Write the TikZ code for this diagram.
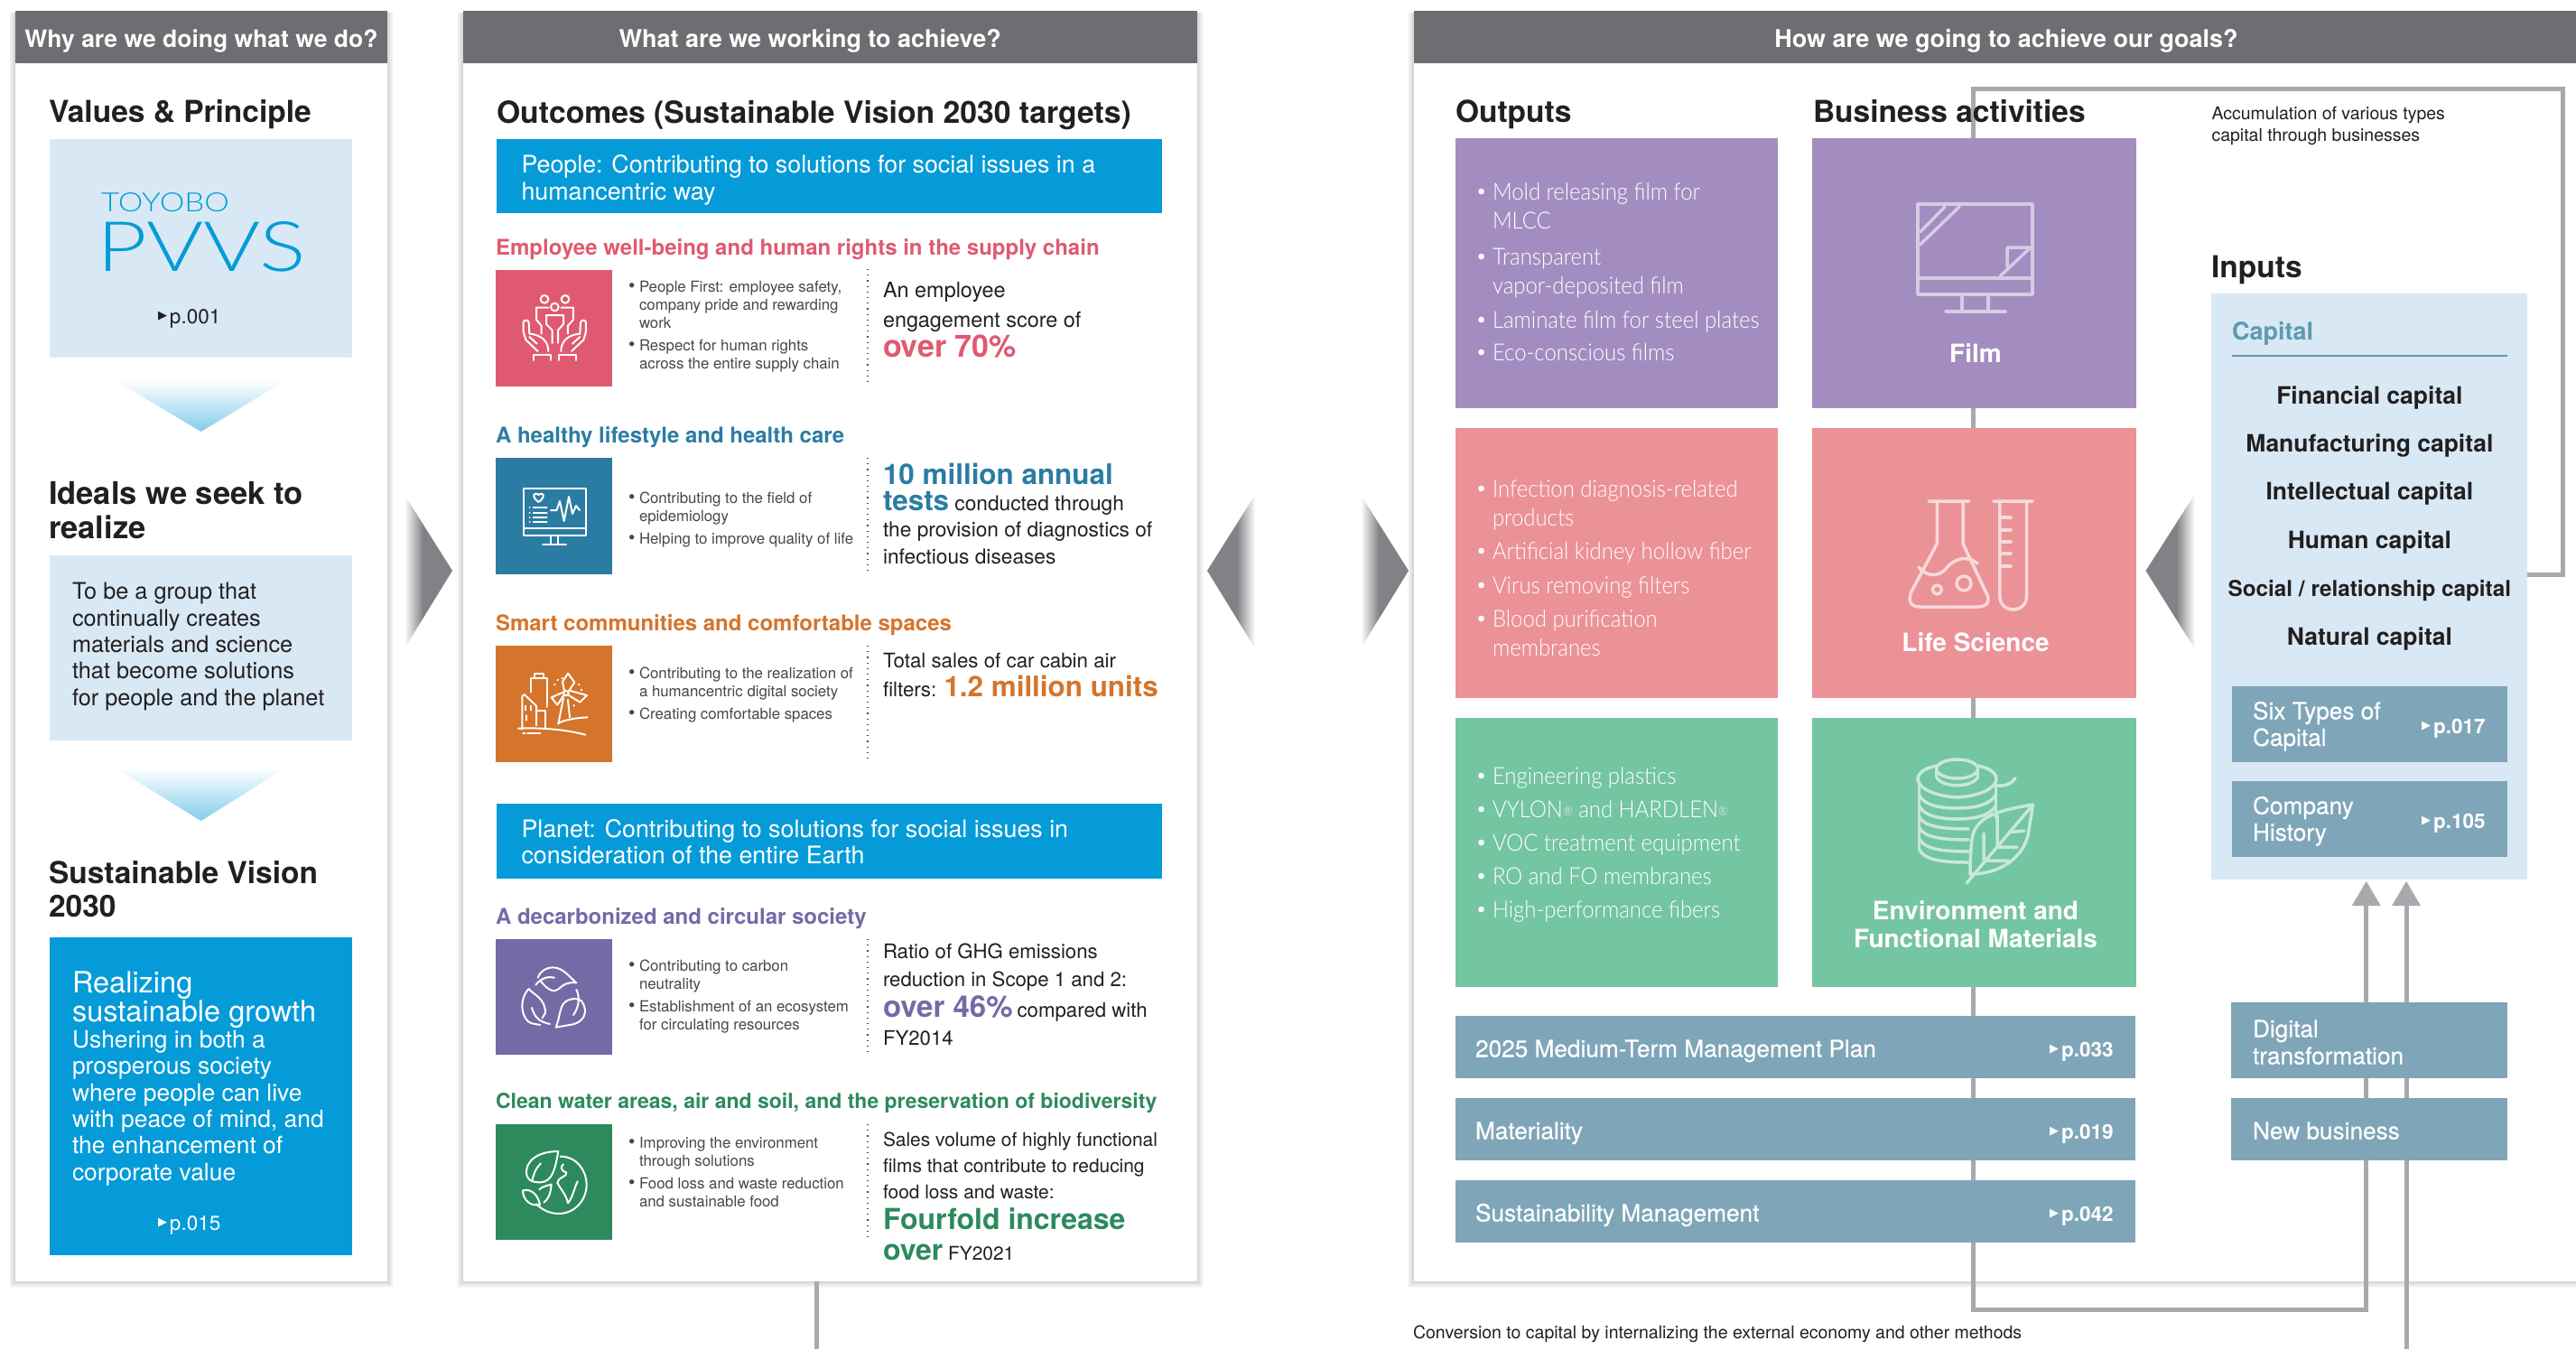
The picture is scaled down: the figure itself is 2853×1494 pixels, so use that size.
\documentclass[tikz,border=0pt]{standalone}
\usepackage{fontspec}
\usepackage{graphicx}
\setmainfont{TeX Gyre Heros}
\newfontfamily\thinf{Lato Light}
\newfontfamily\outf[FakeStretch=0.92]{Lato Light}
\newfontfamily\medf[FakeBold=0.35]{TeX Gyre Heros}
\newfontfamily\hvf{TeX Gyre Heros}
\newfontfamily\djf{DejaVu Sans}
\usetikzlibrary{arrows.meta,calc}
\lineskiplimit=-100pt
\definecolor{hdrc}{HTML}{6D6E71}
\definecolor{lblue}{HTML}{D8E9F5}
\definecolor{cblue}{HTML}{059BD8}
\definecolor{barc}{HTML}{7FA5B8}
\definecolor{cpur}{HTML}{A38DC0}
\definecolor{cpink}{HTML}{EB9297}
\definecolor{cgrn}{HTML}{74C5A1}
\definecolor{cred}{HTML}{DF5A70}
\definecolor{cteal}{HTML}{2B7CA3}
\definecolor{cora}{HTML}{D5742B}
\definecolor{cvio}{HTML}{736AA6}
\definecolor{cdg}{HTML}{2C8A5D}
\definecolor{ink}{HTML}{231F20}
\definecolor{soft}{HTML}{4A4647}
\definecolor{linec}{HTML}{A7A9AC}
\definecolor{bigar}{HTML}{808285}
\definecolor{capc}{HTML}{5F9AB0}
\pgfdeclarehorizontalshading{fadeR}{100bp}{color(0bp)=(white); color(25bp)=(white); color(44bp)=(bigar); color(100bp)=(bigar)}
\pgfdeclarehorizontalshading{fadeL}{100bp}{color(0bp)=(bigar); color(56bp)=(bigar); color(75bp)=(white); color(100bp)=(white)}
\pgfdeclarelayer{panels}\pgfdeclarelayer{conns}
\pgfsetlayers{panels,conns,main}
\newcommand{\fsz}[2]{\fontsize{#1}{#2}\selectfont}
\newcommand{\mkbox}[7]{\node[anchor=north west,inner sep=0pt,outer sep=0pt,minimum width={(#4-#2)*1pt},minimum height={(#5-#3)*1pt},#6] (#1) at (#2,#3) {#7};}
\newcommand{\mktxt}[5]{\node[txt,#4] (#1) at (#2,#3) {#5};}
\newcommand{\sbul}{\makebox[12pt][l]{\smash{\raisebox{-.8pt}{\fsz{21}{20}\textbullet}}}}
\newcommand{\lbul}{\makebox[17pt][l]{\hvf\textbullet}}
\newcommand{\hdrtxt}[1]{\smash{\raisebox{-12pt}{#1}}}
\newcommand{\pref}[1]{{\djf\fsz{13}{13}\raisebox{5pt}{▶}}\hspace{3pt}p.#1}
\newcommand{\panelshadow}[4]{\foreach \i in {1,...,7}{\fill[black,opacity=.025] (#1-\i,#2+2) rectangle (#3+\i,#4+\i);}}
\tikzset{
 txt/.style={anchor=base west,inner sep=0pt,outer sep=0pt,align=left},
 hdr/.style={fill=hdrc,text=white,font=\bfseries\fsz{27}{30}},
 ttl/.style={text=ink,font=\bfseries\fsz{33.5}{37.5}},
 body/.style={text=ink,font=\fsz{25.3}{29.3}},
 lbox/.style={fill=lblue},
 bluebox/.style={fill=cblue},
 sec/.style={font=\bfseries\fsz{24}{29}},
 bl/.style={text=soft,font=\fsz{16.8}{20}},
 outb/.style={text=white,font=\outf\fsz{26}{32}},
 ba/.style={text=white,font=\bfseries\fsz{28}{31}},
 icon/.style={draw=white,line width=2pt,line cap=round,line join=round,fill=none},
 bicon/.style={line width=3.5pt,line cap=round,line join=round,fill=none},
 conn/.style={draw=linec,line width=5pt},
 dotv/.style={draw=soft,line width=1.2pt,dash pattern=on 1.2pt off 5pt},
 barl/.style={text=white,font=\medf\fsz{26.2}{30}},
 prf/.style={text=white,font=\bfseries\fsz{22.5}{25}}
}
\begin{document}
\begin{tikzpicture}[x=1pt,y=-1pt]
\useasboundingbox (0,0) rectangle (2853,1494);
% ---------- panels
\begin{pgfonlayer}{panels}
\fill[white] (0,0) rectangle (2853,1494);
\panelshadow{17}{12}{429}{1419}
\panelshadow{513}{12}{1325.5}{1419}
\panelshadow{1566}{12}{2900}{1419}
\mkbox{p1}{17}{12}{429}{1419}{fill=white}{}
\mkbox{p2}{513}{12}{1325.5}{1419}{fill=white}{}
\mkbox{p3}{1566}{12}{2853}{1419}{fill=white}{}
\end{pgfonlayer}
\mkbox{h1}{17}{12}{429}{69.5}{hdr,font=\bfseries\fsz{26.5}{30}}{\hdrtxt{Why are we doing what we do?}}
\mkbox{h2}{513}{12}{1325.5}{69.5}{hdr}{\hspace{-44pt}\hdrtxt{What are we working to achieve?}}
\mkbox{h3}{1566}{12}{2853}{69.5}{hdr}{\hspace{25pt}\hdrtxt{How are we going to achieve our goals?}}
% ---------- big arrows
\shade[shading=fadeR] (448,548) -- (501,632) -- (448,718) -- cycle;
\shade[shading=fadeL] (1390,548) -- (1337,632) -- (1390,718) -- cycle;
\shade[shading=fadeR] (1507,548) -- (1560,632) -- (1507,718) -- cycle;
\shade[shading=fadeL] (2431,547) -- (2376.5,632) -- (2431,719) -- cycle;
% ---------- panel 1
\mktxt{v1}{54}{135}{ttl}{Values \& Principle}
\mkbox{b1}{55}{154}{390}{396}{lbox}{}
\node[txt,text=cblue] (logo1) at (112,234) {\resizebox{142pt}{21pt}{\thinf TOYOBO}};
\node[txt,text=cblue] (logo2) at (107,300) {\resizebox{232pt}{55pt}{\thinf PVVS}};
\mktxt{pr1}{175}{358}{text=ink,font=\fsz{22.5}{25}}{\pref{001}}
\shade[top color=white,bottom color=cblue!50] (127,421) -- (317,421) -- (222.7,478) -- cycle;
\mktxt{v2}{54}{596}{ttl,font=\bfseries\fsz{34.5}{37.5}}{Ideals we seek to\\realize}
\mkbox{b2}{55}{615}{390}{820}{lbox}{}
\mktxt{v2t}{80}{781}{body}{To be a group that\\continually creates\\materials and science\\that become solutions\\for people and the planet}
\shade[top color=white,bottom color=cblue!50] (127,850) -- (317,850) -- (222.7,909) -- cycle;
\mktxt{v3}{54}{1015}{ttl,font=\bfseries\fsz{33.5}{36.5}}{Sustainable Vision\\2030}
\mkbox{b3}{55}{1038}{390}{1390}{bluebox}{}
\mktxt{v3t}{80}{1307}{text=white,font=\fsz{26.4}{29.3}}{{\fsz{32.5}{31}Realizing}\\[2pt]{\fsz{32.5}{31}sustainable growth}\\Ushering in both a\\prosperous society\\where people can live\\with peace of mind, and\\the enhancement of\\corporate value}
\mktxt{pr3}{175}{1362}{text=white,font=\fsz{22.5}{25}}{\pref{015}}
% ---------- panel 2
\mktxt{o0}{550}{136}{ttl,font=\bfseries\fsz{33.7}{37}}{Outcomes (Sustainable Vision 2030 targets)}
\mkbox{pb}{550}{154}{1287}{236}{bluebox}{}
\mktxt{pbt}{577.5}{221}{text=white,font=\fsz{26.8}{30}}{People: Contributing to solutions for social issues in a\\humancentric way}
% --- section 1
\mktxt{s1}{549}{282}{sec,text=cred}{Employee well-being and human rights in the supply chain}
\mkbox{i1}{549}{299}{678}{428}{fill=cred}{}
\mktxt{s1b}{696}{408}{bl}{\sbul People First: employee safety,\\\hspace*{12pt}company pride and rewarding\\\hspace*{12pt}work\\[5pt]\sbul Respect for human rights\\\hspace*{12pt}across the entire supply chain}
\mktxt{s1r}{978}{395}{text=ink,font=\fsz{23.4}{33}}{An employee\\engagement score of\\{\bfseries\color{cred}\fsz{34}{34}over 70\%}}
\coordinate (d1) at (961,298);\coordinate (d1b) at (961,428);
\draw[dotv] (d1) -- (d1b);
% --- section 2
\mktxt{s2}{549}{490}{sec,text=cteal}{A healthy lifestyle and health care}
\mkbox{i2}{549}{507}{678}{636}{fill=cteal}{}
\mktxt{s2b}{696}{602}{bl}{\sbul Contributing to the field of\\\hspace*{12pt}epidemiology\\[5pt]\sbul Helping to improve quality of life}
\mktxt{s2r}{978}{624}{text=ink,font=\fsz{22.7}{29.3}}{{\bfseries\color{cteal}\fsz{31.4}{33}10 million annual}\\{\bfseries\color{cteal}\fsz{31.4}{33}tests} conducted through\\the provision of diagnostics of\\infectious diseases}
\coordinate (d2) at (961,507);\coordinate (d2b) at (961,637);
\draw[dotv] (d2) -- (d2b);
% --- section 3
\mktxt{s3}{549}{698.5}{sec,text=cora}{Smart communities and comfortable spaces}
\mkbox{i3}{549}{715}{678}{843.5}{fill=cora}{}
\mktxt{s3b}{696}{796}{bl}{\sbul Contributing to the realization of\\\hspace*{12pt}a humancentric digital society\\[5pt]\sbul Creating comfortable spaces}
\mktxt{s3r}{978}{771}{text=ink,font=\fsz{22.3}{32}}{Total sales of car cabin air\\filters: {\bfseries\color{cora}\fsz{31.4}{33}1.2 million units}}
\coordinate (d3) at (961,715);\coordinate (d3b) at (961,845);
\draw[dotv] (d3) -- (d3b);
% --- planet
\mkbox{pl}{550}{890}{1287}{972.5}{bluebox}{}
\mktxt{plt}{577.5}{956}{text=white,font=\fsz{26.8}{29}}{Planet: Contributing to solutions for social issues in\\consideration of the entire Earth}
% --- section 4
\mktxt{s4}{549}{1023}{sec,text=cvio}{A decarbonized and circular society}
\mkbox{i4}{549}{1040}{678}{1168}{fill=cvio}{}
\mktxt{s4b}{696}{1140}{bl}{\sbul Contributing to carbon\\\hspace*{12pt}neutrality\\[5pt]\sbul Establishment of an ecosystem\\\hspace*{12pt}for circulating resources}
\mktxt{s4r}{978}{1157}{text=ink,font=\fsz{22.2}{31}}{Ratio of GHG emissions\\reduction in Scope 1 and 2:\\[3pt]{\bfseries\color{cvio}\fsz{33}{33}over 46\%}\hspace{5pt}compared with\\FY2014}
\coordinate (d4) at (961,1040);\coordinate (d4b) at (961,1170);
\draw[dotv] (d4) -- (d4b);
% --- section 5
\mktxt{s5}{549}{1227}{sec,text=cdg,font=\bfseries\fsz{23}{29}}{Clean water areas, air and soil, and the preservation of biodiversity}
\mkbox{i5}{549}{1245}{678}{1373}{fill=cdg}{}
\mktxt{s5b}{696}{1336}{bl}{\sbul Improving the environment\\\hspace*{12pt}through solutions\\[5pt]\sbul Food loss and waste reduction\\\hspace*{12pt}and sustainable food}
\mktxt{s5r}{978}{1395}{text=ink,font=\fsz{20.9}{29}}{Sales volume of highly functional\\films that contribute to reducing\\food loss and waste:\\[5pt]{\bfseries\color{cdg}\fsz{32}{32}Fourfold increase}\\[5pt]{\bfseries\color{cdg}\fsz{32}{32}over} FY2021}
\coordinate (d5) at (961,1245);\coordinate (d5b) at (961,1374);
\draw[dotv] (d5) -- (d5b);
% ---------- panel 3
\mktxt{ou}{1612}{135}{ttl}{Outputs}
\mktxt{bu}{2008}{135}{ttl}{Business activities}
\mkbox{o1}{1611.5}{153}{1969}{452}{fill=cpur}{}
\mkbox{o2}{1611.5}{474}{1969}{773}{fill=cpink}{}
\mkbox{o3}{1611.5}{795}{1969}{1093}{fill=cgrn}{}
\mkbox{film}{2007}{153}{2365.5}{452}{fill=cpur}{}
\mkbox{life}{2007}{474}{2365.5}{773}{fill=cpink}{}
\mkbox{env}{2007}{795}{2365.5}{1093}{fill=cgrn}{}
\mktxt{o1t}{1636}{399}{outb}{\lbul Mold releasing film for\\\hspace*{17pt}MLCC\\[7.5pt]\lbul Transparent\\\hspace*{17pt}vapor-deposited film\\[6pt]\lbul Laminate film for steel plates\\[4pt]\lbul Eco-conscious films}
\mktxt{o2t}{1636}{726}{outb}{\lbul Infection diagnosis-related\\\hspace*{17pt}products\\[5pt]\lbul Artificial kidney hollow fiber\\[6pt]\lbul Virus removing filters\\[5pt]\lbul Blood purification\\\hspace*{17pt}membranes}
\mktxt{o3t}{1636}{1016}{outb,font=\outf\fsz{26}{37}}{\lbul Engineering plastics\\\lbul VYLON{\fsz{14}{14}\raisebox{2pt}{®}} and HARDLEN{\fsz{14}{14}\raisebox{2pt}{®}}\\\lbul VOC treatment equipment\\\lbul RO and FO membranes\\\lbul High-performance fibers}
\node[ba,anchor=base,inner sep=0pt] (filmt) at (2188,401) {Film};
\node[ba,anchor=base,inner sep=0pt] (lifet) at (2188,721.5) {Life Science};
\node[ba,anchor=base,inner sep=0pt,align=center] (envt) at (2188,1049.5) {Environment and\\Functional Materials};
% bars
\mkbox{b25}{1612}{1125}{2365}{1194}{fill=barc}{}
\mkbox{bmat}{1612}{1216}{2365}{1285}{fill=barc}{}
\mkbox{bsus}{1612}{1307}{2365}{1376}{fill=barc}{}
\mktxt{b25t}{1634}{1170.5}{barl}{2025 Medium-Term Management Plan}
\mktxt{bmatt}{1634}{1261.5}{barl}{Materiality}
\mktxt{bsust}{1634}{1352.5}{barl}{Sustainability Management}
\mktxt{b25p}{2270}{1170}{prf}{\pref{033}}
\mktxt{bmatp}{2270}{1261}{prf}{\pref{019}}
\mktxt{bsusp}{2270}{1352}{prf}{\pref{042}}
% right column
\mktxt{acc}{2449.5}{156.5}{text=ink,font=\fsz{19.5}{24.5}}{Accumulation of various types\\capital through businesses}
\mktxt{inp}{2449}{307}{ttl}{Inputs}
\mkbox{inbox}{2449}{325}{2799}{974}{lbox}{}
\mktxt{capt}{2472}{376}{text=capc,font=\bfseries\fsz{27}{30}}{Capital}
\coordinate (ca) at (2472,394);\coordinate (cb) at (2776.5,394);
\draw[capc,line width=1.5pt] (ca) -- (cb);
\node[text=ink,font=\bfseries\fsz{26.5}{53.4},anchor=base,inner sep=0pt,align=center] (capl) at (2624.4,714) {Financial capital\\Manufacturing capital\\Intellectual capital\\Human capital\\{\fsz{24.3}{53.4}Social / relationship capital}\\Natural capital};
\mkbox{six}{2472}{760}{2776.5}{844}{fill=barc}{}
\mkbox{hist}{2472}{865}{2776.5}{949}{fill=barc}{}
\mktxt{sixt}{2495}{826}{barl,font=\medf\fsz{26.2}{29.5}}{Six Types of\\Capital}
\mktxt{histt}{2495}{931}{barl,font=\medf\fsz{26.2}{29.5}}{Company\\History}
\mktxt{sixp}{2682}{812}{prf}{\pref{017}}
\mktxt{histp}{2682}{917}{prf}{\pref{105}}
\mkbox{dt}{2471}{1110}{2777}{1194}{fill=barc}{}
\mkbox{nb}{2471}{1216}{2777}{1285}{fill=barc}{}
\mktxt{dtt}{2495}{1178.5}{barl,font=\medf\fsz{26.2}{30}}{Digital\\transformation}
\mktxt{nbt}{2495}{1261.5}{barl}{New business}
\mktxt{conv}{1565}{1482}{text=ink,font=\fsz{19.5}{24}}{Conversion to capital by internalizing the external economy and other methods}
% ---------- connectors
\coordinate (fbA) at (2185,98);
\coordinate (fbB) at (2838,98);
\coordinate (fbC) at (2838,636);
\coordinate (lowA) at (2185,1450);
\coordinate (lowB) at (2620.7,1450);
\coordinate (tipA) at (2620.7,976);
\coordinate (baseA) at (2620.7,1003);
\coordinate (tipB) at (2665,976);
\coordinate (baseB) at (2665,1003);
\coordinate (botB) at (2665,1494);
\coordinate (botP) at (904,1494);
\coordinate (topP) at (904,1419);
\begin{pgfonlayer}{conns}
\draw[conn,line join=miter] (inbox.east |- fbC) -- (fbC) -- (fbB) -- (fbA) -- (fbA |- film.north) -- (fbA |- life.north) -- (fbA |- env.north) -- (fbA |- b25.north) -- (fbA |- bsus.south) -- (lowA) -- (lowB) -- (baseA);
\draw[conn] (topP) -- (botP);
\draw[conn] (botB) -- (baseB);
\end{pgfonlayer}
\fill[linec] (tipA) -- ++(16,27) -- ++(-32,0) -- cycle;
\fill[linec] (tipB) -- ++(16,27) -- ++(-32,0) -- cycle;
% ---------- icons, people
\begin{scope}[shift={(549,299)},x=.3333pt,y=-.3333pt]
\draw[icon] (162,97) circle (13) (231,97) circle (13) (196,123) circle (13);
\draw[icon] (188,243) -- (188,200) -- (168,180) -- (168,150) -- (225,150) -- (225,180) -- (207,200) -- (207,243);
\draw[icon] (152,212) -- (152,185) -- (135,165) -- (135,125) -- (175,125);
\draw[icon] (240,212) -- (240,185) -- (258,165) -- (258,125) -- (218,125);
\draw[icon] (140,270) -- (100,232) -- (92,205) -- (92,172) .. controls (98,165) and (108,165) .. (110,175) -- (112,212) .. controls (150,215) and (175,235) .. (175,270);
\draw[icon] (112,222) -- (137,245);
\draw[icon] (252,270) -- (292,232) -- (300,205) -- (300,172) .. controls (294,165) and (284,165) .. (282,175) -- (280,212) .. controls (242,215) and (217,235) .. (217,270);
\draw[icon] (280,222) -- (255,245);
\draw[icon] (125,300) -- (125,282) -- (183,282) -- (183,300);
\draw[icon] (209,300) -- (209,282) -- (267,282) -- (267,300);
\end{scope}
% ---------- monitor
\begin{scope}
\draw[icon] (580,541) rectangle (649,593);
\draw[icon] (580,585) -- (649,585);
\draw[icon] (610,593) -- (610,603) (618,593) -- (618,603) (601,603) -- (627,603);
\draw[icon] (596.5,556) .. controls (588,550) and (591,544) .. (596.5,548) .. controls (602,544) and (605,550) .. (596.5,556);
\draw[icon] (610,565) -- (616.5,565) -- (620,555) -- (624.7,577) -- (630,550) -- (634,569) -- (638,560) -- (642,565);
\draw[icon] (590.5,562) -- (605.7,562) (590.5,568) -- (605.7,568) (590.5,573) -- (605.7,573) (590.5,578) -- (605.7,578);
\fill[white] (586.7,562) circle (1) (586.7,568) circle (1) (586.7,573) circle (1) (586.7,578) circle (1);
\end{scope}
% ---------- city
\begin{scope}[shift={(549,715)},x=.3333pt,y=-.3333pt]
\draw[icon] (118,155) -- (118,108) -- (172,108) -- (172,198);
\draw[icon] (128,108) -- (128,92) -- (160,92) -- (160,108);
\draw[icon] (88,278) -- (88,168) -- (95,162) -- (135,200) -- (135,265);
\draw[icon] (135,215) -- (165,215) -- (165,272);
\draw[icon] (100,200) -- (100,215) (118,200) -- (118,215) (103,232) -- (103,248);
\draw[icon] (75,275) .. controls (150,272) and (230,278) .. (298,296);
\draw[icon] (90,292) -- (98,292) (105,292) -- (148,292);
\draw[icon] (234,158) circle (8);
\draw[icon] (228,150) -- (222,120) -- (240,92) -- (262,122) -- (242,152);
\draw[icon] (226,165) -- (205,197) -- (185,172) -- (224,155);
\draw[icon] (243,165) -- (280,188) -- (303,165) -- (248,150);
\draw[icon] (225,175) -- (208,260) (240,180) -- (246,238);
\draw[icon] (208,258) .. controls (230,245) and (270,240) .. (305,238);
\draw[icon] (195,130) -- (197,128) (205,115) -- (207,113) (220,108) -- (222,108) (276,128) -- (278,130) (284,146) -- (285,148) (260,198) -- (260,200) (170,202) -- (170,203);
\end{scope}
% ---------- recycle and globe
\begin{scope}[shift={(549,1040)},x=.3333pt,y=-.3333pt]
\draw[icon] (140,128) .. controls (150,100) and (185,85) .. (215,100) .. controls (235,110) and (250,130) .. (268,145) .. controls (240,142) and (225,150) .. (210,165) .. controls (195,178) and (175,172) .. (150,140);
\draw[icon] (133,152) .. controls (150,130) and (175,122) .. (195,128);
\draw[icon] (110,165) .. controls (75,200) and (85,270) .. (120,280) -- (148,285);
\draw[icon] (110,165) .. controls (125,185) and (165,195) .. (165,245) -- (155,262);
\draw[icon] (120,228) .. controls (130,265) and (150,275) .. (180,282);
\draw[icon] (200,293) .. controls (215,260) and (210,215) .. (240,203) .. controls (255,197) and (270,195) .. (285,205) .. controls (310,240) and (295,280) .. (245,285) -- (200,293);
\draw[icon] (268,168) .. controls (280,190) and (278,225) .. (258,252);
% globe
\draw[icon] (215,722) .. controls (270,722) and (302,770) .. (302,815) .. controls (302,870) and (260,912) .. (210,912) .. controls (180,912) and (155,900) .. (135,880);
\draw[icon] (208,705) .. controls (150,705) and (95,730) .. (103,785) .. controls (110,805) and (125,808) .. (150,808) .. controls (190,805) and (198,760) .. (208,705);
\draw[icon] (150,745) .. controls (130,765) and (125,785) .. (122,800);
\draw[icon] (90,835) .. controls (120,828) and (140,850) .. (147,882) .. controls (115,890) and (90,865) .. (90,835);
\draw[icon] (185,815) .. controls (165,820) and (150,825) .. (145,832) (185,815) .. controls (182,850) and (175,862) .. (160,875);
\draw[icon] (225,748) .. controls (215,755) and (215,770) .. (235,775) .. controls (240,790) and (205,790) .. (205,810) .. controls (215,830) and (235,850) .. (240,877) .. controls (255,860) and (260,830) .. (272,805);
\end{scope}
% ---------- film icon
\begin{scope}[draw=cpur!45!white]
\draw[bicon] (2124,226) rectangle (2251,326);
\draw[bicon] (2124,308) -- (2251,308);
\draw[bicon] (2173,326) -- (2173,345) (2202,326) -- (2202,345) (2155,345) -- (2221,345);
\draw[bicon] (2126.5,257) -- (2154,229) (2126.5,271) -- (2170,229);
\draw[bicon] (2223,296) -- (2223,274) -- (2249,274) -- (2215,306);
\end{scope}
% ---------- flask
\begin{scope}[draw=cpink!35!white]
\draw[bicon] (2136,555) -- (2181,555) (2145.4,555) -- (2145.4,602) -- (2117,655) .. controls (2112,668) and (2118,672) .. (2127,672) -- (2190,672) .. controls (2202,672) and (2205,665) .. (2199,655) -- (2174,602) -- (2174,555);
\draw[bicon] (2125,628) .. controls (2135,640) and (2148,638) .. (2155,630) .. controls (2165,617) and (2180,615) .. (2190,624);
\draw[bicon] (2145.4,653) circle (5) (2175,646) circle (8);
\draw[bicon] (2207.8,555) -- (2251,555) (2214.8,555) -- (2214.8,660) .. controls (2214.8,680) and (2244.6,680) .. (2244.6,660) -- (2244.6,555);
\draw[bicon] (2214.8,573) -- (2227,573) (2214.8,587) -- (2227,587) (2214.8,600) -- (2227,600) (2214.8,613) -- (2227,613) (2214.8,627) -- (2227,627);
\end{scope}
% ---------- spool and leaf
\begin{scope}[draw=cgrn!40!white]
\draw[bicon] (2167.6,851.5) ellipse (23 and 10.5);
\draw[bicon] (2144.6,851.5) -- (2144.6,860) (2190.6,851.5) -- (2190.6,860);
\draw[bicon] (2144.6,860) .. controls (2150,873) and (2185,873) .. (2190.6,860);
\draw[bicon] (2144.6,848) .. controls (2110,855) and (2120,880) .. (2167.6,883) .. controls (2215,880) and (2225,855) .. (2190.6,848);
\draw[bicon] (2125.4,865) -- (2125.4,938) (2210.5,865) -- (2210.5,905);
\draw[bicon] (2125.4,880) .. controls (2130,892) and (2150,895) .. (2167.6,895) .. controls (2190,895) and (2205,890) .. (2210.5,880);
\draw[bicon] (2125.4,892) .. controls (2130,904) and (2150,907) .. (2167.6,907) .. controls (2190,907) and (2205,902) .. (2210.5,892);
\draw[bicon] (2125.4,904) .. controls (2130,915) and (2150,918) .. (2180,918);
\draw[bicon] (2125.4,916) .. controls (2130,927) and (2150,930) .. (2180,930);
\draw[bicon] (2125.4,928) .. controls (2130,940) and (2150,943) .. (2180,943);
\draw[bicon] (2125.4,940) .. controls (2130,952) and (2150,955) .. (2180,955);
\draw[bicon] (2210.5,870) .. controls (2220,871) and (2228,868) .. (2232,861.7);
\draw[bicon] (2251.6,891) .. controls (2210,898) and (2187,905) .. (2184,930) .. controls (2182,945) and (2182,960) .. (2182,968) .. controls (2215,968) and (2240,950) .. (2246,925) -- (2251.6,891);
\draw[bicon] (2251.6,891) -- (2178,978);
\draw[bicon] (2197,923) -- (2197,953) -- (2224,953) (2212,903) -- (2212,938) -- (2234,938) (2225.6,921.7) -- (2242,920);
\end{scope}
\end{tikzpicture}
\end{document}
